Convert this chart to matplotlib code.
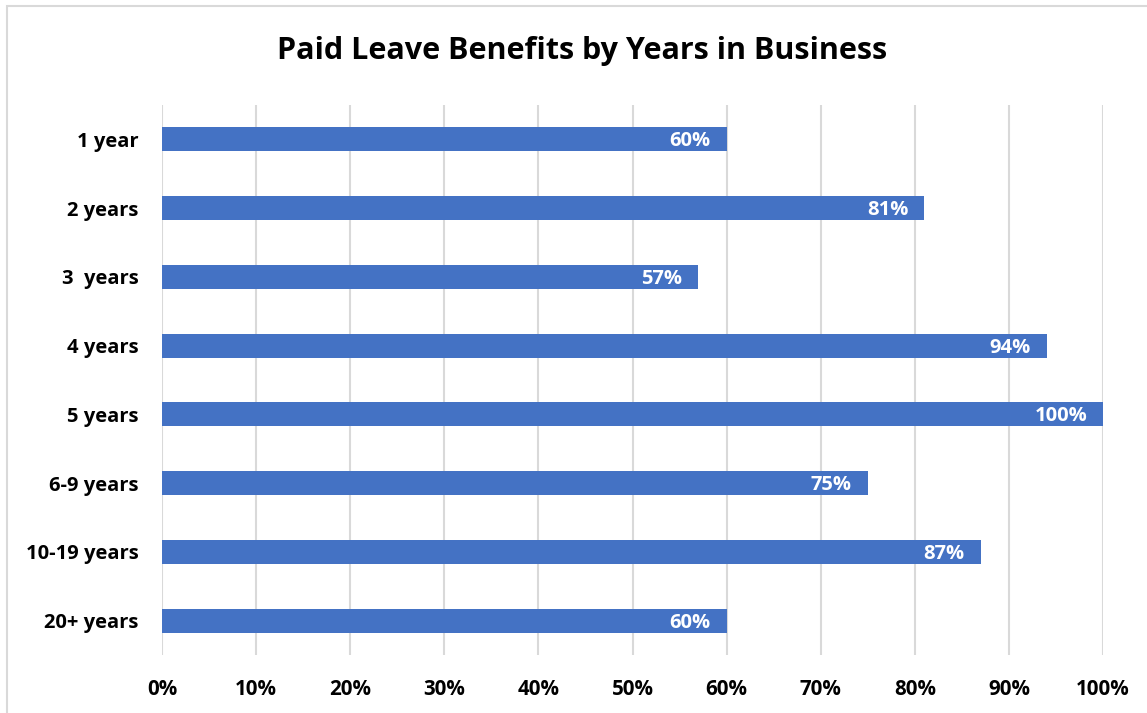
import matplotlib
matplotlib.use("Agg")
import matplotlib.pyplot as plt
from matplotlib.patches import Rectangle

categories = ["1 year", "2 years", "3  years", "4 years", "5 years", "6-9 years", "10-19 years", "20+ years"]
values = [60, 81, 57, 94, 100, 75, 87, 60]
xticks = [0, 10, 20, 30, 40, 50, 60, 70, 80, 90, 100]
title = "Paid Leave Benefits by Years in Business"

plt.rcParams['font.family'] = ['Open Sans', 'DejaVu Sans']
W, H = 1147, 713
fig = plt.figure(figsize=(W / 100, H / 100), dpi=100)
ax = fig.add_axes([162 / W, 1 - 655 / H, (1103 - 162) / W, (655 - 105) / H])

ypos = list(range(len(categories)))
ax.barh(ypos, values, height=0.35, color="#4472C4", zorder=3)
ax.set_ylim(len(categories) - 0.5, -0.5)
ax.set_xlim(0, 100)
ax.set_yticks(ypos)
ax.set_yticklabels(categories, fontsize=14.5, fontweight='bold')
ax.set_xticks(xticks)
ax.set_xticklabels([f"{t}%" for t in xticks], fontsize=14.8, fontweight='bold')
ax.tick_params(axis='y', length=0, pad=17)
ax.tick_params(axis='x', length=0, pad=17)
ax.grid(axis='x', color="#D9D9D9", linewidth=1.5, zorder=0)
for s in ax.spines.values():
    s.set_visible(False)

for y, v in zip(ypos, values):
    ax.annotate(f"{v}%", xy=(v, y), xytext=(-11.5, -1.5), textcoords='offset points',
                ha='right', va='center', color='white', fontsize=14.5, fontweight='bold', zorder=4)

fig.text(582 / W, 1 - 51 / H, title, ha='center', va='center', fontsize=22, fontweight='bold')

fig.patches.append(Rectangle((7 / W, -0.1), 1.2, 1 - 6 / H + 0.1, transform=fig.transFigure,
                             fill=False, edgecolor="#D9D9D9", linewidth=1.5))

fig.savefig("out.png", dpi=100)
